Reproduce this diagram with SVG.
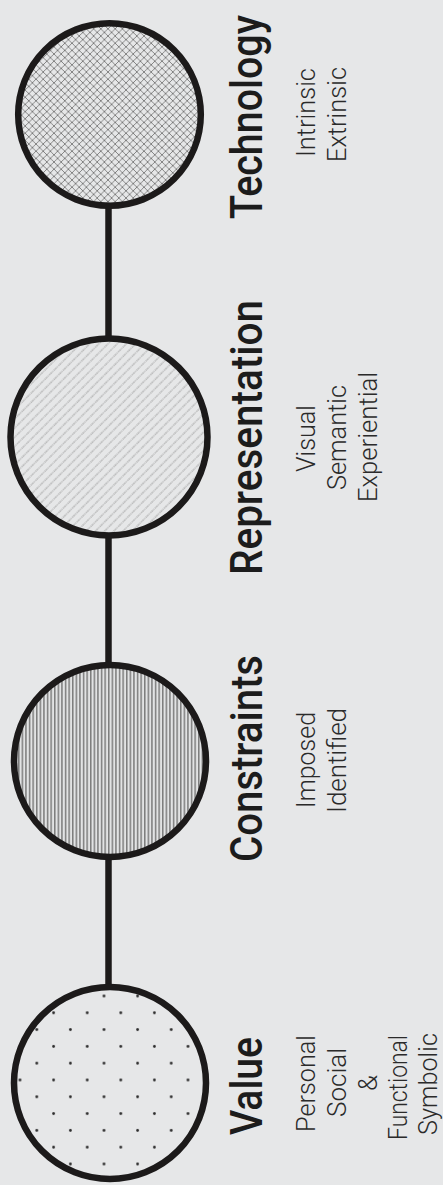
<svg xmlns="http://www.w3.org/2000/svg" width="443" height="1185" viewBox="0 0 443 1185">
<style>
.bg{fill:#e6e7e8}
.ring{stroke:#1c1a1a;stroke-width:6.5}
.link{stroke:#1c1a1a;stroke-width:6.5;fill:none}
.title{font-family:Roboto,"Liberation Sans",sans-serif;font-weight:500;font-size:44px;fill:#1c1c1c;text-anchor:middle}
.sub{font-family:Roboto,"Liberation Sans",sans-serif;font-weight:300;font-size:26px;fill:#2a2a2a;text-anchor:middle}
</style>
<defs>
<pattern id="cross" patternUnits="userSpaceOnUse" width="7.2" height="7.2">
<rect width="7.2" height="7.2" fill="#e6e7e8"/>
<path d="M0,0L7.2,7.2M7.2,0L0,7.2" stroke="#747474" stroke-width="0.85" fill="none"/>
</pattern>
<pattern id="diag" patternUnits="userSpaceOnUse" width="6.5" height="6.5" patternTransform="rotate(45)">
<rect width="6.5" height="6.5" fill="#e6e7e8"/>
<line x1="1" y1="0" x2="1" y2="6.5" stroke="#a2a2a2" stroke-width="1" stroke-dasharray="1.1 0.6"/>
</pattern>
<pattern id="vert" patternUnits="userSpaceOnUse" width="3.6" height="4">
<rect width="3.6" height="4" fill="#e2e3e4"/>
<rect x="0" width="1.5" height="4" fill="#7c7c7c"/>
</pattern>
<pattern id="dots" patternUnits="userSpaceOnUse" x="95.6" y="987.6" width="33.6" height="33.6">
<rect width="33.6" height="33.6" fill="#e6e7e8"/>
<circle cx="8.4" cy="8.4" r="1.4" fill="#2a2a2a"/>
<circle cx="25.2" cy="25.2" r="1.4" fill="#2a2a2a"/>
</pattern>
</defs>
<rect class="bg" width="443" height="1185"/>
<g id="connectors">
<line class="link" x1="108.5" y1="205" x2="108.5" y2="340"/>
<line class="link" x1="108.5" y1="533" x2="108.5" y2="667"/>
<line class="link" x1="108.5" y1="855" x2="108.5" y2="988"/>
</g>
<g id="technology">
<circle class="ring" cx="109.5" cy="114.5" r="91.3" fill="url(#cross)"/>
<text class="title" transform="translate(262,117) rotate(-90)" textLength="204" lengthAdjust="spacingAndGlyphs">Technology</text>
<text class="sub" transform="translate(315,112.5) rotate(-90)" textLength="89" lengthAdjust="spacingAndGlyphs">Intrinsic</text>
<text class="sub" transform="translate(346,114.5) rotate(-90)" textLength="95" lengthAdjust="spacingAndGlyphs">Extrinsic</text>
</g>
<g id="representation">
<circle class="ring" cx="109" cy="437" r="98.5" fill="url(#diag)"/>
<text class="title" transform="translate(262,437.5) rotate(-90)" textLength="275" lengthAdjust="spacingAndGlyphs">Representation</text>
<text class="sub" transform="translate(315,438.5) rotate(-90)" textLength="67" lengthAdjust="spacingAndGlyphs">Visual</text>
<text class="sub" transform="translate(346,437.5) rotate(-90)" textLength="105" lengthAdjust="spacingAndGlyphs">Semantic</text>
<text class="sub" transform="translate(376.5,437) rotate(-90)" textLength="130" lengthAdjust="spacingAndGlyphs">Experiential</text>
</g>
<g id="constraints">
<circle class="ring" cx="110" cy="761" r="96" fill="url(#vert)"/>
<text class="title" transform="translate(262,758.5) rotate(-90)" textLength="207" lengthAdjust="spacingAndGlyphs">Constraints</text>
<text class="sub" transform="translate(315,760) rotate(-90)" textLength="96" lengthAdjust="spacingAndGlyphs">Imposed</text>
<text class="sub" transform="translate(346,760.5) rotate(-90)" textLength="105" lengthAdjust="spacingAndGlyphs">Identified</text>
</g>
<g id="value">
<circle class="ring" cx="110" cy="1083" r="96" fill="url(#dots)"/>
<text class="title" transform="translate(262,1086) rotate(-90)" textLength="98" lengthAdjust="spacingAndGlyphs">Value</text>
<text class="sub" transform="translate(315,1083.5) rotate(-90)" textLength="97" lengthAdjust="spacingAndGlyphs">Personal</text>
<text class="sub" transform="translate(346,1082.5) rotate(-90)" textLength="69" lengthAdjust="spacingAndGlyphs">Social</text>
<text class="sub" transform="translate(376.5,1083) rotate(-90)">&amp;</text>
<text class="sub" transform="translate(407,1087.5) rotate(-90)" textLength="105" lengthAdjust="spacingAndGlyphs">Functional</text>
<text class="sub" transform="translate(437,1084) rotate(-90)" textLength="102" lengthAdjust="spacingAndGlyphs">Symbolic</text>
</g>
</svg>
